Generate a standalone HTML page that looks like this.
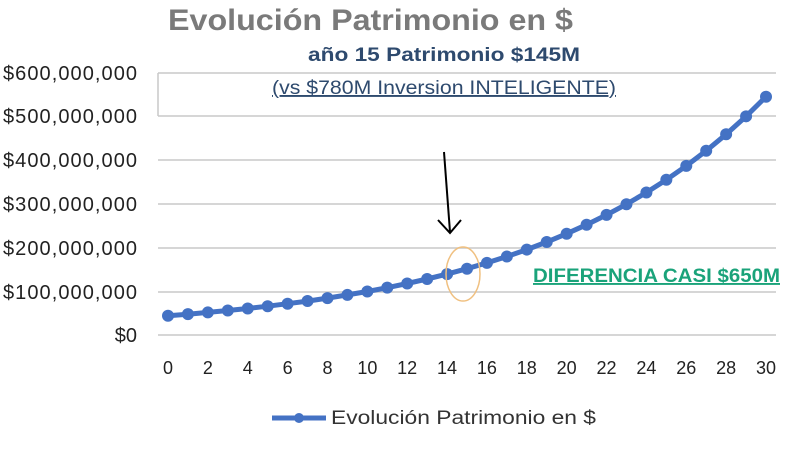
<!DOCTYPE html>
<html><head><meta charset="utf-8"><style>
body{margin:0;background:#fff;width:799px;height:445px;overflow:hidden;font-family:"Liberation Sans","DejaVu Sans",sans-serif}
</style></head><body>
<svg id="s" width="799" height="445" xmlns="http://www.w3.org/2000/svg" font-family="Liberation Sans, DejaVu Sans, sans-serif">
<text x="168" y="30" font-size="30" font-weight="bold" fill="#7a7a7a" textLength="405" lengthAdjust="spacingAndGlyphs">Evolución Patrimonio en $</text>
<g stroke="#c8c8c8" stroke-width="1.5">
<line x1="158" y1="73" x2="776" y2="73"/><line x1="158" y1="116" x2="776" y2="116"/>
<line x1="158" y1="160" x2="776" y2="160"/><line x1="158" y1="204" x2="776" y2="204"/>
<line x1="158" y1="248" x2="776" y2="248"/><line x1="158" y1="292" x2="776" y2="292"/>
<line x1="158" y1="335" x2="776" y2="335"/><line x1="158" y1="73" x2="158" y2="116"/>
</g>
<g font-size="20" fill="#222" text-anchor="end" lengthAdjust="spacingAndGlyphs">
<text x="137" y="80" textLength="134">$600,000,000</text><text x="137" y="123" textLength="134">$500,000,000</text>
<text x="137" y="167" textLength="134">$400,000,000</text><text x="137" y="211" textLength="134">$300,000,000</text>
<text x="137" y="255" textLength="134">$200,000,000</text><text x="137" y="299" textLength="134">$100,000,000</text>
<text x="137" y="342">$0</text>
</g>
<g id="xl" font-size="18" fill="#222" text-anchor="middle"></g>
<polyline id="pl" fill="none" stroke="#4472c4" stroke-width="5"/>
<g id="pts" fill="#4472c4"></g>
<text x="308" y="61" font-size="19" font-weight="bold" fill="#2e4a6e" textLength="272" lengthAdjust="spacingAndGlyphs">año 15 Patrimonio $145M</text>
<text x="272" y="94" font-size="19" fill="#2e4a6e" text-decoration="underline" textLength="344" lengthAdjust="spacingAndGlyphs">(vs $780M Inversion INTELIGENTE)</text>
<text x="533" y="282" font-size="19" font-weight="bold" fill="#1aa37a" text-decoration="underline" textLength="247" lengthAdjust="spacingAndGlyphs">DIFERENCIA CASI $650M</text>
<path d="M444 152 L450 232 M438 220 L450 233 L461 220" stroke="#000" stroke-width="2" fill="none"/>
<ellipse cx="463" cy="274" rx="17" ry="27" fill="none" stroke="#f0c080" stroke-width="1.5"/>
<line x1="272" y1="418" x2="326" y2="418" stroke="#4472c4" stroke-width="5"/>
<circle cx="299" cy="418" r="5" fill="#4472c4"/>
<text x="331" y="424" font-size="19" fill="#333" textLength="265" lengthAdjust="spacingAndGlyphs">Evolución Patrimonio en $</text>
</svg>
<script>
var ns="http://www.w3.org/2000/svg",p=[],g=document.getElementById('pts'),xl=document.getElementById('xl');
for(var t=0;t<=30;t++){var x=168+t*598/30,v=3.5+40.5*Math.pow(1.0903,t),y=335-v*0.437;p.push(x.toFixed(1)+","+y.toFixed(1));
var c=document.createElementNS(ns,'circle');c.setAttribute('cx',x);c.setAttribute('cy',y);c.setAttribute('r',6);g.appendChild(c);
if(t%2==0){var e=document.createElementNS(ns,'text');e.setAttribute('x',x);e.setAttribute('y',374);e.textContent=t;xl.appendChild(e);}}
document.getElementById('pl').setAttribute('points',p.join(' '));
</script>
</body></html>
